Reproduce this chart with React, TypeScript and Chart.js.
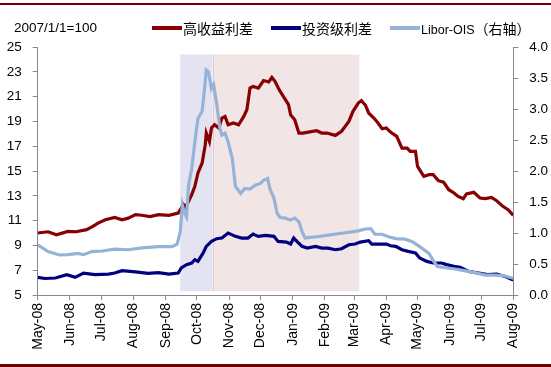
import React, { useEffect, useRef } from "react";
import { Chart, registerables } from "chart.js";

Chart.register(...registerables);

// ---------- data ----------
const baseDate = "2008-05-01";

const monthTicks = [
  "2008-05-01", "2008-06-01", "2008-07-01", "2008-08-01", "2008-09-01", "2008-10-01",
  "2008-11-01", "2008-12-01", "2009-01-01", "2009-02-01", "2009-03-01", "2009-04-01",
  "2009-05-01", "2009-06-01", "2009-07-01", "2009-08-01",
];
const monthLabels = [
  "May-08", "Jun-08", "Jul-08", "Aug-08", "Sep-08", "Oct-08", "Nov-08", "Dec-08",
  "Jan-09", "Feb-09", "Mar-09", "Apr-09", "May-09", "Jun-09", "Jul-09", "Aug-09",
];

const leftTicks = { min: 5, max: 25, step: 2 };
const rightTicks = { min: 0, max: 4, step: 0.5 };

const noteText = "2007/1/1=100";
const seriesNames = ["高收益利差", "投资级利差", "Libor-OIS（右轴）"];

// 高收益利差 (left axis)
const hyDates = [
  "2008-05-01", "2008-05-11", "2008-05-19", "2008-05-30", "2008-06-07", "2008-06-17", "2008-06-23",
  "2008-06-28", "2008-07-05", "2008-07-14", "2008-07-21", "2008-07-27", "2008-08-03", "2008-08-09",
  "2008-08-17", "2008-08-25", "2008-09-04", "2008-09-13", "2008-09-16", "2008-09-18", "2008-09-20",
  "2008-09-23", "2008-09-26", "2008-09-29", "2008-10-02", "2008-10-06", "2008-10-09", "2008-10-10",
  "2008-10-13", "2008-10-15", "2008-10-18", "2008-10-22", "2008-10-25", "2008-10-28", "2008-10-31",
  "2008-11-05", "2008-11-10", "2008-11-15", "2008-11-18", "2008-11-21", "2008-11-24", "2008-11-29",
  "2008-12-04", "2008-12-09", "2008-12-12", "2008-12-15", "2008-12-19", "2008-12-23", "2008-12-28",
  "2008-12-30", "2009-01-03", "2009-01-07", "2009-01-11", "2009-01-16", "2009-01-24", "2009-01-29",
  "2009-02-03", "2009-02-11", "2009-02-17", "2009-02-24", "2009-02-28", "2009-03-05", "2009-03-08",
  "2009-03-12", "2009-03-15", "2009-03-20", "2009-03-24", "2009-03-28", "2009-04-01", "2009-04-05",
  "2009-04-11", "2009-04-16", "2009-04-21", "2009-04-24", "2009-04-29", "2009-05-01", "2009-05-07",
  "2009-05-12", "2009-05-16", "2009-05-21", "2009-05-26", "2009-05-31", "2009-06-05", "2009-06-09",
  "2009-06-14", "2009-06-17", "2009-06-24", "2009-06-30", "2009-07-05", "2009-07-11", "2009-07-16",
  "2009-07-22", "2009-07-27", "2009-08-01",
];
const hyValues = [
  10.0, 10.1, 9.86, 10.13, 10.1, 10.27, 10.53,
  10.8, 11.07, 11.26, 11.07, 11.2, 11.48, 11.43,
  11.33, 11.48, 11.43, 11.6, 12.0, 12.3, 12.1,
  12.55, 13.09, 13.76, 14.84, 15.65, 17.12, 18.06,
  17.39, 18.47, 18.73, 18.47, 19.27, 19.4, 18.73,
  18.87, 18.73, 19.4, 19.94, 21.69, 21.82, 21.69,
  22.3, 22.18, 22.55, 22.23, 21.56, 21.02, 20.35,
  19.54, 19.14, 18.06, 18.06, 18.14, 18.25, 18.06,
  18.06, 17.87, 18.2, 19.0, 19.81, 20.48, 20.67,
  20.3, 19.68, 19.27, 18.87, 18.41, 18.47, 18.14,
  17.79, 16.85, 16.85, 16.58, 16.58, 15.37, 14.56,
  14.7, 14.7, 14.22, 14.1, 13.49, 13.23, 12.95,
  12.77, 13.15, 13.28, 12.82, 12.77, 12.87, 12.6,
  12.15, 11.88, 11.42,
];

// 投资级利差 (left axis)
const igDates = [
  "2008-05-01", "2008-05-08", "2008-05-18", "2008-05-29", "2008-06-06", "2008-06-14", "2008-06-25",
  "2008-07-08", "2008-07-14", "2008-07-21", "2008-08-03", "2008-08-15", "2008-08-25", "2008-09-04",
  "2008-09-13", "2008-09-16", "2008-09-21", "2008-09-26", "2008-09-29", "2008-10-02", "2008-10-07",
  "2008-10-10", "2008-10-15", "2008-10-20", "2008-10-25", "2008-10-31", "2008-11-07", "2008-11-13",
  "2008-11-19", "2008-11-24", "2008-11-29", "2008-12-06", "2008-12-14", "2008-12-18", "2008-12-26",
  "2008-12-30", "2009-01-02", "2009-01-05", "2009-01-10", "2009-01-15", "2009-01-23", "2009-01-29",
  "2009-02-04", "2009-02-11", "2009-02-17", "2009-02-24", "2009-03-02", "2009-03-07", "2009-03-15",
  "2009-03-18", "2009-03-26", "2009-04-01", "2009-04-05", "2009-04-10", "2009-04-16", "2009-04-22",
  "2009-04-29", "2009-05-03", "2009-05-10", "2009-05-16", "2009-05-24", "2009-05-29", "2009-06-05",
  "2009-06-11", "2009-06-19", "2009-06-29", "2009-07-07", "2009-07-16", "2009-07-24", "2009-07-31",
  "2009-08-01",
];
const igValues = [
  6.42, 6.33, 6.37, 6.64, 6.42, 6.77, 6.64,
  6.69, 6.77, 6.96, 6.86, 6.75, 6.8, 6.69,
  6.77, 7.18, 7.44, 7.58, 7.85, 7.71, 8.39,
  8.92, 9.32, 9.54, 9.59, 10.0, 9.73, 9.59,
  9.59, 9.92, 9.73, 9.81, 9.73, 9.32, 9.27,
  9.11, 9.59, 9.32, 8.92, 8.78, 8.92, 8.78,
  8.78, 8.65, 8.73, 9.05, 9.11, 9.27, 9.38,
  9.11, 9.11, 9.11, 8.97, 8.92, 8.65, 8.52,
  8.39, 7.98, 7.71, 7.58, 7.58, 7.45, 7.31,
  7.23, 6.9, 6.77, 6.64, 6.69, 6.5, 6.23,
  6.23,
];

// Libor-OIS (right axis)
const liborDates = [
  "2008-05-01", "2008-05-11", "2008-05-22", "2008-05-30", "2008-06-09", "2008-06-14", "2008-06-22",
  "2008-07-02", "2008-07-14", "2008-07-27", "2008-08-09", "2008-08-25", "2008-09-07", "2008-09-12",
  "2008-09-15", "2008-09-17", "2008-09-19", "2008-09-21", "2008-09-23", "2008-09-26", "2008-09-29",
  "2008-10-02", "2008-10-06", "2008-10-08", "2008-10-10", "2008-10-12", "2008-10-15", "2008-10-17",
  "2008-10-20", "2008-10-23", "2008-10-25", "2008-10-28", "2008-10-31", "2008-11-04", "2008-11-07",
  "2008-11-12", "2008-11-16", "2008-11-21", "2008-11-26", "2008-12-01", "2008-12-04", "2008-12-08",
  "2008-12-10", "2008-12-14", "2008-12-17", "2008-12-20", "2008-12-25", "2008-12-30", "2009-01-03",
  "2009-01-07", "2009-01-10", "2009-01-13", "2009-01-24", "2009-02-06", "2009-02-19", "2009-03-04",
  "2009-03-12", "2009-03-17", "2009-03-21", "2009-03-28", "2009-04-03", "2009-04-10", "2009-04-19",
  "2009-04-26", "2009-05-03", "2009-05-12", "2009-05-16", "2009-05-20", "2009-05-28", "2009-06-06",
  "2009-06-16", "2009-06-25", "2009-07-05", "2009-07-14", "2009-07-23", "2009-08-01",
];
const liborValues = [
  0.81, 0.7, 0.645, 0.65, 0.67, 0.65, 0.7,
  0.71, 0.74, 0.73, 0.76, 0.78, 0.78, 0.82,
  1.02, 1.45, 1.32, 1.26, 1.77, 2.04, 2.47,
  2.85, 2.96, 3.28, 3.63, 3.6, 3.33, 3.39,
  3.09, 2.69, 2.58, 2.61, 2.47, 2.2, 1.75,
  1.64, 1.72, 1.71, 1.77, 1.8, 1.85, 1.88,
  1.72, 1.56, 1.32, 1.25, 1.24, 1.21, 1.24,
  1.18, 1.02, 0.92, 0.94, 0.97, 1.0, 1.03,
  1.065, 1.07, 0.98, 0.98, 0.94, 0.91, 0.9,
  0.86, 0.78, 0.67, 0.56, 0.46, 0.44, 0.42,
  0.39, 0.36, 0.32, 0.32, 0.31, 0.27,
];

// shaded periods (dates) and their vertical extent on the left axis
const shadeStarts = ["2008-09-15", "2008-10-16"];
const shadeEnds = ["2008-10-16", "2009-03-06"];
const shadeLow = 5.3;
const shadeHigh = 24.4;

// ---------- styles ----------
const seriesColors = ["#880000", "#000080", "#95B3D7"];
const shadeColors = ["#E3E3F1", "#F2E5E6"];
const axisColor = "#888888";
const latinFont = "Arial, 'Liberation Sans', sans-serif";
const cjkFont = "'Noto Sans CJK SC', sans-serif";

const DAY = 86400000;
const dayOf = (s: string) =>
  (Date.parse(s + "T00:00:00Z") - Date.parse(baseDate + "T00:00:00Z")) / DAY;

const toPoints = (dates: string[], values: number[]) =>
  dates.map((d, i) => ({ x: dayOf(d), y: values[i] }));

const shadePlugin = {
  id: "shade",
  beforeDatasetsDraw(chart: any) {
    const { ctx, scales } = chart;
    const xs = scales.x;
    const ys = scales.y;
    ctx.save();
    shadeStarts.forEach((s, i) => {
      const x0 = xs.getPixelForValue(dayOf(s));
      const x1 = xs.getPixelForValue(dayOf(shadeEnds[i]));
      const y0 = ys.getPixelForValue(shadeHigh);
      const y1 = ys.getPixelForValue(shadeLow);
      ctx.fillStyle = shadeColors[i];
      ctx.fillRect(x0, y0, x1 - x0, y1 - y0);
    });
    // faint divider between the two periods
    const xd = Math.round(xs.getPixelForValue(dayOf(shadeEnds[0]))) + 0.5;
    ctx.strokeStyle = "#DCCDD6";
    ctx.lineWidth = 1;
    ctx.beginPath();
    ctx.moveTo(xd, ys.getPixelForValue(shadeHigh));
    ctx.lineTo(xd, ys.getPixelForValue(shadeLow));
    ctx.stroke();
    ctx.restore();
  },
};

// split a legend label into Latin and CJK runs so each gets its own font
const splitRuns = (s: string) => {
  const runs: { text: string; cjk: boolean }[] = [];
  for (const ch of s) {
    const cjk = ch.charCodeAt(0) > 0x2e80;
    const last = runs[runs.length - 1];
    if (last && last.cjk === cjk) last.text += ch;
    else runs.push({ text: ch, cjk });
  }
  return runs;
};

export default function App() {
  const canvasRef = useRef<HTMLCanvasElement | null>(null);

  useEffect(() => {
    if (!canvasRef.current) return;
    const chart = new Chart(canvasRef.current, {
      type: "line",
      data: {
        datasets: [
          {
            label: seriesNames[0],
            data: toPoints(hyDates, hyValues),
            borderColor: seriesColors[0],
            borderWidth: 3.2,
            pointRadius: 0,
            tension: 0,
            yAxisID: "y",
            order: 3,
          },
          {
            label: seriesNames[1],
            data: toPoints(igDates, igValues),
            borderColor: seriesColors[1],
            borderWidth: 3.2,
            pointRadius: 0,
            tension: 0,
            yAxisID: "y",
            order: 2,
          },
          {
            label: seriesNames[2],
            data: toPoints(liborDates, liborValues),
            borderColor: seriesColors[2],
            borderWidth: 3.2,
            pointRadius: 0,
            tension: 0,
            yAxisID: "y1",
            order: 1,
          },
        ],
      },
      options: {
        responsive: false,
        animation: false,
        devicePixelRatio: 1,
        layout: { padding: { top: 47, left: 0, right: 0, bottom: 0 } },
        plugins: { legend: { display: false }, tooltip: { enabled: false } },
        scales: {
          x: {
            type: "linear",
            min: dayOf(monthTicks[0]),
            max: dayOf(monthTicks[monthTicks.length - 1]),
            afterBuildTicks: (axis: any) => {
              axis.ticks = monthTicks.map((d) => ({ value: dayOf(d) }));
            },
            afterFit: (axis: any) => {
              axis.height = 72;
            },
            ticks: {
              autoSkip: false,
              minRotation: 90,
              maxRotation: 90,
              padding: 3,
              color: "#000",
              font: { family: latinFont, size: 14 },
              callback: (_v: any, i: number) => monthLabels[i],
            },
            grid: { drawOnChartArea: false, tickLength: 5, color: axisColor },
            border: { color: axisColor, width: 1 },
          },
          y: {
            position: "left",
            min: leftTicks.min,
            max: leftTicks.max,
            afterFit: (axis: any) => {
              axis.width = 37.7;
            },
            ticks: {
              stepSize: leftTicks.step,
              padding: 11,
              color: "#000",
              font: { family: latinFont, size: 13.5 },
            },
            grid: { drawOnChartArea: false, tickLength: 5, color: axisColor },
            border: { color: axisColor, width: 1 },
          },
          y1: {
            position: "right",
            min: rightTicks.min,
            max: rightTicks.max,
            afterFit: (axis: any) => {
              axis.width = 37.7;
            },
            ticks: {
              stepSize: rightTicks.step,
              padding: 11,
              color: "#000",
              font: { family: latinFont, size: 13.5 },
              callback: (v: any) => Number(v).toFixed(1),
            },
            grid: { drawOnChartArea: false, tickLength: 5, color: axisColor },
            border: { color: axisColor, width: 1 },
          },
        },
      },
      plugins: [shadePlugin],
    });
    return () => chart.destroy();
  }, []);

  const legendLeft = [152, 271, 390];
  const legendText: React.CSSProperties = {
    position: "absolute",
    top: 19,
    lineHeight: "18px",
    color: "#000",
    whiteSpace: "nowrap",
  };

  return (
    <div
      style={{
        position: "absolute",
        left: 0,
        top: 0,
        width: 551,
        height: 367,
        background: "#fff",
        overflow: "hidden",
      }}
    >
      <canvas ref={canvasRef} width={551} height={367} style={{ display: "block", width: 551, height: 367 }} />
      <div style={{ position: "absolute", left: 0, top: 3, width: 551, height: 2, background: "#700000" }} />
      <div style={{ position: "absolute", left: 0, top: 364, width: 551, height: 3, background: "#700000" }} />
      <div style={{ ...legendText, left: 14, fontFamily: latinFont, fontSize: 13.5 }}>{noteText}</div>
      {seriesNames.map((name, i) => (
        <React.Fragment key={name}>
          <div
            style={{
              position: "absolute",
              left: legendLeft[i],
              top: 26,
              width: 30,
              height: 4,
              background: seriesColors[i],
            }}
          />
          <div style={{ ...legendText, left: legendLeft[i] + 31 }}>
            {splitRuns(name).map((r, j) => (
              <span
                key={j}
                style={{
                  fontFamily: r.cjk ? cjkFont : latinFont,
                  fontSize: r.cjk ? 14 : 12.5,
                }}
              >
                {r.text}
              </span>
            ))}
          </div>
        </React.Fragment>
      ))}
    </div>
  );
}
